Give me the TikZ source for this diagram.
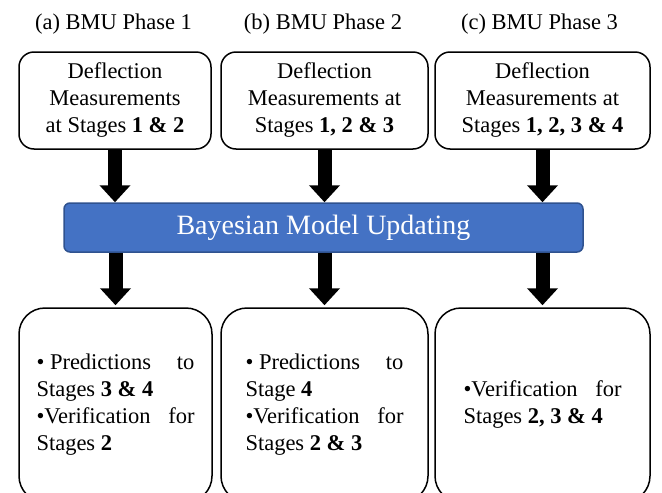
\documentclass[tikz,border=0pt]{standalone}
\usepackage{fontspec}
\setmainfont{Liberation Serif}
\usepackage{tikz}
\usetikzlibrary{arrows.meta,positioning}
\definecolor{bmublue}{HTML}{4472C4}
\definecolor{bmuedge}{HTML}{2F528F}

\begin{document}
\begin{tikzpicture}[x=1pt,y=-1pt]
  \tikzstyle{title}=[font=\fontsize{22.5}{27}\selectfont, inner sep=0pt]
  \tikzstyle{inbox}=[draw, line width=1.5pt, rounded corners=15pt, align=center,
    font=\fontsize{22.5}{27}\selectfont, minimum height=97pt]
  \tikzstyle{outbox}=[draw, line width=1.5pt, rounded corners=26pt, align=flush left,
    text width=158pt, font=\fontsize{22.5}{27}\selectfont, minimum height=194pt]
  \tikzstyle{bmu}=[draw=bmuedge, fill=bmublue, line width=1.5pt, rounded corners=6pt,
    text=white, font=\fontsize{28}{32}\selectfont, minimum width=519pt, minimum height=49pt]
  \tikzstyle{fat}=[line width=14pt, -{Triangle[width=30pt,length=17pt]}]

  \clip (0,0) rectangle (662,493);

  % phase titles
  \node[title] (phaseA) at (113.5,24) {(a) BMU Phase 1};
  \node[title] (phaseB) at (323,24) {(b) BMU Phase 2};
  \node[title] (phaseC) at (539.5,24) {(c) BMU Phase 3};

  % measurements
  \node[inbox, minimum width=192pt] (measA) at (115,100.5)
    {Deflection\\ Measurements\\ at Stages \textbf{1 \& 2}};
  \node[inbox, minimum width=207pt] (measB) at (324.5,100.5)
    {Deflection\\ Measurements at\\ Stages \textbf{1, 2 \& 3}};
  \node[inbox, minimum width=215pt] (measC) at (542.5,100.5)
    {Deflection\\ Measurements at\\ Stages \textbf{1, 2, 3 \& 4}};

  % updating
  \node[bmu] (bmu) at (323.5,227.5) {Bayesian Model Updating};

  % results
  \node[outbox, minimum width=193pt] (resA) at (115.5,405)
    {\textbullet{} Predictions \hfill to\\ Stages \textbf{3 \& 4}\\
     \textbullet Verification \hfill for\\ Stages \textbf{2}};
  \node[outbox, minimum width=207pt] (resB) at (324.5,405)
    {\textbullet{} Predictions \hfill to\\ Stage \textbf{4}\\
     \textbullet Verification \hfill for\\ Stages \textbf{2 \& 3}};
  \node[outbox, minimum width=215pt] (resC) at (542.5,405)
    {\textbullet Verification \hfill for\\ Stages \textbf{2, 3 \& 4}};

  % arrows
  \foreach \m/\r in {measA/resA, measB/resB, measC/resC} {
    \draw[fat] (\m.south) -- (\m.south |- bmu.north);
    \draw[fat, shorten >=2pt] (bmu.south -| \r.north) -- (\r.north);
  }
\end{tikzpicture}
\end{document}
